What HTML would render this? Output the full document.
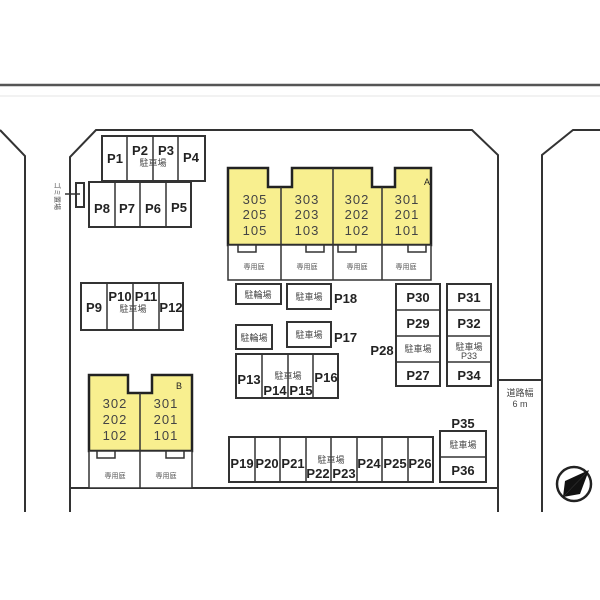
<!DOCTYPE html>
<html><head><meta charset="utf-8"><style>
html,body{margin:0;padding:0;background:#fff;}
svg{display:block;}
text{font-family:"Liberation Sans","Noto Sans CJK JP",sans-serif;fill:#222;}
.b{font-weight:bold;font-size:13px;}
.s{font-size:9px;fill:#444;}
.y{font-size:7px;fill:#555;}
.n{font-size:13px;fill:#444;letter-spacing:1px;}
</style></head><body>
<svg width="600" height="600" viewBox="0 0 600 600" xmlns="http://www.w3.org/2000/svg">
<g fill="none" stroke="#333" stroke-width="2">
<line x1="0" y1="85" x2="600" y2="85" stroke="#555" stroke-width="2.5"/>
<line x1="0" y1="96" x2="600" y2="96" stroke="#e6e6e6" stroke-width="1"/>
<polyline points="0,130 25,156 25,512"/>
<polyline points="70,512 70,157 96,130 472,130 498,155 498,512"/>
<polyline points="542,512 542,155 573,130 600,130"/>
<line x1="70" y1="488" x2="498" y2="488"/>
<line x1="498" y1="380" x2="542" y2="380"/>
</g>
<text x="520" y="396" class="s" text-anchor="middle">道路幅</text>
<text x="520" y="407" class="s" text-anchor="middle">6 m</text>

<!-- P1-P4 -->
<g fill="#fff" stroke="#333" stroke-width="2">
<rect x="102" y="136" width="103" height="45"/>
<rect x="89" y="182" width="102" height="45"/>
<rect x="76" y="183" width="8" height="24"/>
<rect x="81" y="283" width="102" height="47"/>
</g>
<g stroke="#333" stroke-width="1.5">
<line x1="127" y1="136" x2="127" y2="181"/><line x1="153" y1="136" x2="153" y2="181"/><line x1="178" y1="136" x2="178" y2="181"/>
<line x1="115" y1="182" x2="115" y2="227"/><line x1="140" y1="182" x2="140" y2="227"/><line x1="166" y1="182" x2="166" y2="227"/>
<line x1="65" y1="194" x2="80" y2="194"/>
<line x1="107" y1="283" x2="107" y2="330"/><line x1="133" y1="283" x2="133" y2="330"/><line x1="159" y1="283" x2="159" y2="330"/>
</g>
<text x="115" y="163" class="b" text-anchor="middle">P1</text>
<text x="140" y="155" class="b" text-anchor="middle">P2</text>
<text x="166" y="155" class="b" text-anchor="middle">P3</text>
<text x="153" y="166" class="s" text-anchor="middle">駐車場</text>
<text x="191" y="162" class="b" text-anchor="middle">P4</text>
<text x="102" y="213" class="b" text-anchor="middle">P8</text>
<text x="127" y="213" class="b" text-anchor="middle">P7</text>
<text x="153" y="213" class="b" text-anchor="middle">P6</text>
<text x="179" y="212" class="b" text-anchor="middle">P5</text>
<text transform="translate(55,182) rotate(90)" class="y">ゴミ置場</text>
<text x="94" y="312" class="b" text-anchor="middle">P9</text>
<text x="120" y="301" class="b" text-anchor="middle">P10</text>
<text x="146" y="301" class="b" text-anchor="middle">P11</text>
<text x="133" y="312" class="s" text-anchor="middle">駐車場</text>
<text x="171" y="312" class="b" text-anchor="middle">P12</text>

<!-- Building A -->
<g stroke="#222" stroke-width="2.5">
<path d="M228,245 L228,168 L268,168 L268,187 L292,187 L292,168 L372,168 L372,187 L395,187 L395,168 L431,168 L431,245 Z" fill="#f8ef8f"/>
</g>
<g stroke="#333" stroke-width="1.5" fill="#fff">
<rect x="228" y="245" width="203" height="35"/>
<line x1="281" y1="187" x2="281" y2="280"/><line x1="333" y1="168" x2="333" y2="280"/><line x1="382" y1="187" x2="382" y2="280"/>
<rect x="238" y="245" width="18" height="7"/><rect x="306" y="245" width="18" height="7"/>
<rect x="338" y="245" width="18" height="7"/><rect x="408" y="245" width="18" height="7"/>
</g>
<g class="n" text-anchor="middle">
<text x="255" y="204" class="n" text-anchor="middle">305</text><text x="255" y="219" class="n" text-anchor="middle">205</text><text x="255" y="235" class="n" text-anchor="middle">105</text>
<text x="307" y="204" class="n" text-anchor="middle">303</text><text x="307" y="219" class="n" text-anchor="middle">203</text><text x="307" y="235" class="n" text-anchor="middle">103</text>
<text x="357" y="204" class="n" text-anchor="middle">302</text><text x="357" y="219" class="n" text-anchor="middle">202</text><text x="357" y="235" class="n" text-anchor="middle">102</text>
<text x="407" y="204" class="n" text-anchor="middle">301</text><text x="407" y="219" class="n" text-anchor="middle">201</text><text x="407" y="235" class="n" text-anchor="middle">101</text>
</g>
<text x="424" y="185" style="font-size:9px">A</text>
<text x="254" y="269" class="y" text-anchor="middle">専用庭</text>
<text x="307" y="269" class="y" text-anchor="middle">専用庭</text>
<text x="357" y="269" class="y" text-anchor="middle">専用庭</text>
<text x="406" y="269" class="y" text-anchor="middle">専用庭</text>

<!-- Building B -->
<path d="M89,451 L89,375 L128,375 L128,393 L152,393 L152,375 L192,375 L192,451 Z" fill="#f8ef8f" stroke="#222" stroke-width="2.5"/>
<g stroke="#333" stroke-width="1.5" fill="#fff">
<rect x="89" y="451" width="103" height="37"/>
<line x1="140" y1="393" x2="140" y2="488"/>
<rect x="97" y="451" width="18" height="7"/><rect x="166" y="451" width="18" height="7"/>
</g>
<text x="115" y="408" class="n" text-anchor="middle">302</text><text x="115" y="424" class="n" text-anchor="middle">202</text><text x="115" y="440" class="n" text-anchor="middle">102</text>
<text x="166" y="408" class="n" text-anchor="middle">301</text><text x="166" y="424" class="n" text-anchor="middle">201</text><text x="166" y="440" class="n" text-anchor="middle">101</text>
<text x="176" y="389" style="font-size:9px">B</text>
<text x="115" y="478" class="y" text-anchor="middle">専用庭</text>
<text x="166" y="478" class="y" text-anchor="middle">専用庭</text>

<!-- middle -->
<g fill="#fff" stroke="#333" stroke-width="2">
<rect x="236" y="284" width="45" height="20"/>
<rect x="287" y="284" width="44" height="25"/>
<rect x="236" y="325" width="36" height="24"/>
<rect x="287" y="322" width="44" height="25"/>
<rect x="236" y="354" width="102" height="44"/>
<rect x="396" y="284" width="44" height="102"/>
<rect x="447" y="284" width="44" height="102"/>
<rect x="229" y="437" width="204" height="45"/>
<rect x="440" y="431" width="46" height="51"/>
</g>
<g stroke="#333" stroke-width="1.5">
<line x1="262" y1="354" x2="262" y2="398"/><line x1="288" y1="354" x2="288" y2="398"/><line x1="313" y1="354" x2="313" y2="398"/>
<line x1="396" y1="310" x2="440" y2="310"/><line x1="396" y1="336" x2="440" y2="336"/><line x1="396" y1="362" x2="440" y2="362"/>
<line x1="447" y1="310" x2="491" y2="310"/><line x1="447" y1="336" x2="491" y2="336"/><line x1="447" y1="362" x2="491" y2="362"/>
<line x1="255" y1="437" x2="255" y2="482"/><line x1="280" y1="437" x2="280" y2="482"/><line x1="306" y1="437" x2="306" y2="482"/>
<line x1="331" y1="437" x2="331" y2="482"/><line x1="357" y1="437" x2="357" y2="482"/><line x1="382" y1="437" x2="382" y2="482"/><line x1="408" y1="437" x2="408" y2="482"/>
<line x1="440" y1="457" x2="486" y2="457"/>
</g>
<text x="258" y="298" class="s" text-anchor="middle">駐輪場</text>
<text x="309" y="300" class="s" text-anchor="middle">駐車場</text>
<text x="334" y="303" class="b">P18</text>
<text x="254" y="341" class="s" text-anchor="middle">駐輪場</text>
<text x="309" y="338" class="s" text-anchor="middle">駐車場</text>
<text x="334" y="342" class="b">P17</text>
<text x="249" y="384" class="b" text-anchor="middle">P13</text>
<text x="288" y="379" class="s" text-anchor="middle">駐車場</text>
<text x="275" y="395" class="b" text-anchor="middle">P14</text>
<text x="301" y="395" class="b" text-anchor="middle">P15</text>
<text x="326" y="382" class="b" text-anchor="middle">P16</text>
<text x="418" y="302" class="b" text-anchor="middle">P30</text>
<text x="418" y="328" class="b" text-anchor="middle">P29</text>
<text x="418" y="352" class="s" text-anchor="middle">駐車場</text>
<text x="418" y="380" class="b" text-anchor="middle">P27</text>
<text x="382" y="355" class="b" text-anchor="middle">P28</text>
<text x="469" y="302" class="b" text-anchor="middle">P31</text>
<text x="469" y="328" class="b" text-anchor="middle">P32</text>
<text x="469" y="350" class="s" text-anchor="middle">駐車場</text>
<text x="469" y="359" class="s" text-anchor="middle">P33</text>
<text x="469" y="380" class="b" text-anchor="middle">P34</text>
<text x="242" y="468" class="b" text-anchor="middle">P19</text>
<text x="267" y="468" class="b" text-anchor="middle">P20</text>
<text x="293" y="468" class="b" text-anchor="middle">P21</text>
<text x="331" y="463" class="s" text-anchor="middle">駐車場</text>
<text x="318" y="478" class="b" text-anchor="middle">P22</text>
<text x="344" y="478" class="b" text-anchor="middle">P23</text>
<text x="369" y="468" class="b" text-anchor="middle">P24</text>
<text x="395" y="468" class="b" text-anchor="middle">P25</text>
<text x="420" y="468" class="b" text-anchor="middle">P26</text>
<text x="463" y="428" class="b" text-anchor="middle">P35</text>
<text x="463" y="448" class="s" text-anchor="middle">駐車場</text>
<text x="463" y="475" class="b" text-anchor="middle">P36</text>

<!-- compass -->
<circle cx="574" cy="484" r="17" fill="#fff" stroke="#222" stroke-width="2.5"/>
<path d="M589,470 L563,497 L565,481 Z" fill="#111"/>
<path d="M589,470 L563,497 L580,494 Z" fill="#111"/>
</svg>
</body></html>
